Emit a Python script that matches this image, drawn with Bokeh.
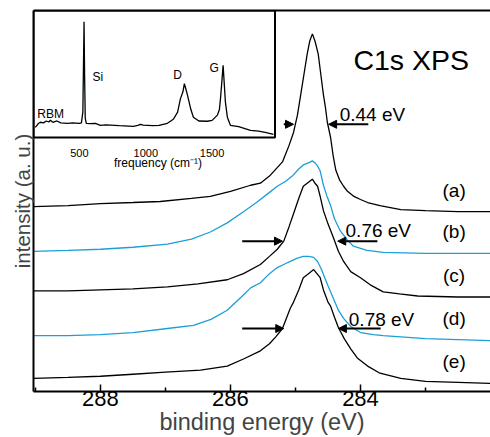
from bokeh.plotting import figure
from bokeh.models import Range1d, LinearAxis, Title, Arrow, NormalHead, FixedTicker
from bokeh.core.properties import value
from bokeh.embed import file_html
from bokeh.resources import INLINE

FONT = "Liberation Sans"
BLUE = "#1b9fd9"

# ---------------- main XPS data (binding energy eV, intensity a.u.) ----------------
e_a = [289.03, 288.5, 288.0, 287.5, 287.08, 286.6, 286.31, 286.0, 285.69, 285.54, 285.4, 285.2, 285.1, 285.03,
       284.97, 284.92, 284.87, 284.82, 284.78, 284.74, 284.7, 284.65, 284.61, 284.57, 284.54, 284.51, 284.46,
       284.42, 284.38, 284.32, 284.26, 284.2, 284.1, 284.0, 283.89, 283.7, 283.38, 283.0, 282.5, 282.0]
i_a = [182, 183, 185, 186, 187, 190, 192, 197, 203, 205, 212, 226, 242, 255,
       272, 292, 312, 332, 345, 352, 345, 332, 312, 292, 280, 265, 250,
       232, 218, 208, 202, 197, 192, 189, 186, 183, 179, 178, 177, 177]

e_b = [289.03, 288.5, 288.0, 287.5, 286.97, 286.6, 286.31, 286.05, 285.8, 285.6, 285.4, 285.28, 285.15, 285.05,
       284.95, 284.88, 284.8, 284.74, 284.7, 284.66, 284.62, 284.57, 284.52, 284.46, 284.4, 284.31, 284.2,
       284.11, 283.9, 283.65, 283.0, 282.0]
i_b = [138, 139, 140, 142, 145, 150, 157, 166, 177, 186, 196, 202, 207, 212,
       219, 223, 225, 227, 225, 222, 217, 203, 193, 183, 170, 158, 149,
       143, 139, 137, 136, 136]

e_c = [289.03, 288.5, 288.0, 287.5, 286.97, 286.5, 286.05, 285.8, 285.54, 285.4, 285.28, 285.18, 285.1, 285.03,
       284.95, 284.88, 284.8, 284.74, 284.7, 284.66, 284.62, 284.57, 284.5, 284.42, 284.34, 284.26, 284.15,
       284.0, 283.85, 283.65, 283.4, 283.12, 282.5, 282.0]
i_c = [99, 99, 100, 101, 103, 106, 110, 116, 125, 133, 140, 148, 162, 175,
       190, 202, 206, 209, 205, 202, 192, 178, 165, 152, 138, 128, 118,
       112, 105, 98, 96, 94, 93, 93]

e_d = [289.03, 288.5, 288.0, 287.5, 286.97, 286.57, 286.3, 286.05, 285.85, 285.69, 285.54, 285.4, 285.28, 285.15,
       285.08, 284.98, 284.88, 284.8, 284.72, 284.66, 284.6, 284.55, 284.5, 284.42, 284.34, 284.26, 284.15,
       284.0, 283.8, 283.65, 283.0, 282.0]
i_d = [55, 55, 56, 58, 62, 65, 71, 80, 92, 102, 107, 116, 122, 126,
       128, 131, 133, 133, 132, 128, 120, 112, 104, 92, 80, 72, 64,
       58, 56, 55, 52, 50]

e_e = [289.03, 288.5, 288.0, 287.5, 287.0, 286.46, 286.05, 285.8, 285.54, 285.4, 285.3, 285.2, 285.08, 285.03,
       284.95, 284.88, 284.8, 284.72, 284.67, 284.62, 284.57, 284.5, 284.46, 284.4, 284.34, 284.25, 284.15,
       284.05, 283.89, 283.7, 283.38, 283.0, 282.5, 282.0]
i_e = [13, 14, 15, 17, 19, 21, 25, 32, 40, 47, 54, 62, 82, 88,
       100, 112, 116, 120, 116, 112, 100, 88, 84, 73, 63, 52, 42,
       33, 25, 18, 13, 10, 9, 8]

curve_labels = ["(a)", "(b)", "(c)", "(d)", "(e)"]
curve_label_y = [198, 157, 114, 72, 30]

fwhm_text = ["0.44 eV", "0.76 eV", "0.78 eV"]
fwhm_text_x = [284.32, 284.23, 284.18]
fwhm_text_y = [273, 158, 71]
arrow_left_start = [285.18, 285.82, 285.82]
arrow_left_end = [285.03, 285.20, 285.18]
arrow_right_start = [283.88, 283.74, 283.69]
arrow_right_end = [284.49, 284.35, 284.34]
arrow_y = [263, 148, 62]

x_ticks = [288, 286, 284]
x_minor_ticks = [289, 287, 285, 283]

# ---------------- inset Raman data (cm^-1, normalised intensity) ----------------
raman_f = [168, 190, 206, 230, 250, 270, 281, 300, 330, 360, 410, 450, 500, 515,
           526, 531, 535, 539, 544, 552, 580, 620, 658, 700, 800, 907, 940, 960, 980,
           1050, 1100, 1163, 1208, 1240, 1261, 1280, 1291, 1300, 1314, 1340, 1359, 1400,
           1465, 1500, 1540, 1555, 1563, 1572, 1583, 1590, 1600, 1615, 1638, 1700, 1789,
           1850, 1900, 1962]
raman_v = [0.08, 0.11, 0.12, 0.115, 0.13, 0.122, 0.136, 0.12, 0.13, 0.115, 0.112, 0.115, 0.112, 0.115,
           0.2, 0.6, 0.912, 0.5, 0.15, 0.112, 0.11, 0.112, 0.096, 0.1, 0.094, 0.088, 0.095, 0.104, 0.097,
           0.093, 0.095, 0.112, 0.144, 0.2, 0.304, 0.36, 0.424, 0.39, 0.336, 0.22, 0.16, 0.13,
           0.128, 0.135, 0.176, 0.22, 0.304, 0.42, 0.568, 0.45, 0.28, 0.16, 0.096, 0.085, 0.056,
           0.05, 0.04, 0.024]
raman_ticks = [500, 1000, 1500]
raman_peak_names = ["RBM", "Si", "D", "G"]
raman_name_f = [183, 598, 1208, 1480]
raman_name_v = [0.184, 0.48, 0.496, 0.544]

# ---------------- figure ----------------
p = figure(width=490, height=437, output_backend="svg", toolbar_location=None,
           x_range=Range1d(289.03, 282.0), y_range=Range1d(0, 375),
           min_border_left=33, min_border_right=0, min_border_top=10, min_border_bottom=0)
p.outline_line_color = None
p.grid.visible = False
p.background_fill_color = "white"
p.border_fill_color = "white"

p.extra_x_ranges = {"ins": Range1d(154, 3598)}
p.extra_y_ranges = {"ins": Range1d(-2, 1)}

# bottom axis
xa = p.xaxis[0]
xa.ticker = FixedTicker(ticks=x_ticks, minor_ticks=x_minor_ticks)
xa.axis_line_width = 2
xa.major_tick_in = 7
xa.major_tick_out = 0
xa.minor_tick_in = 4
xa.minor_tick_out = 0
xa.major_tick_line_width = 1.5
xa.minor_tick_line_width = 1.5
xa.major_label_text_font = FONT
xa.major_label_text_font_size = "22px"
xa.major_label_text_color = "black"
xa.major_label_standoff = -1
xa.axis_label = "binding energy (eV)"
xa.axis_label_text_font = FONT
xa.axis_label_text_font_size = "23.5px"
xa.axis_label_text_font_style = "normal"
xa.axis_label_standoff = 0

# left axis: no ticks, no labels
ya = p.yaxis[0]
ya.ticker = FixedTicker(ticks=[])
ya.axis_line_width = 2
ya.major_tick_line_color = None
ya.minor_tick_line_color = None
ya.major_label_standoff = 0

# top frame line
top = LinearAxis(ticker=FixedTicker(ticks=[]), axis_line_width=2, major_tick_line_color=None,
                 minor_tick_line_color=None, major_label_standoff=0)
p.add_layout(top, "above")

# y label as left title
p.add_layout(Title(text="intensity (a. u.)", align="center", offset=-26, standoff=0,
                   text_font=FONT, text_font_size="20.5px", text_font_style="normal"), "left")

# curves
for e, i, c in [(e_a, i_a, "black"), (e_b, i_b, BLUE), (e_c, i_c, "black"), (e_d, i_d, BLUE), (e_e, i_e, "black")]:
    p.line(e, i, line_color=c, line_width=1.3)

p.text(x=[282.56] * 5, y=curve_label_y, text=curve_labels, text_font=value(FONT),
       text_font_size="19px", text_align="center", text_baseline="middle", text_color="black")

p.text(x=fwhm_text_x, y=fwhm_text_y, text=fwhm_text, text_font=value(FONT),
       text_font_size="19px", text_align="left", text_baseline="alphabetic", text_color="black")

for k in range(3):
    p.add_layout(Arrow(x_start=arrow_left_start[k], y_start=arrow_y[k], x_end=arrow_left_end[k], y_end=arrow_y[k],
                       line_width=2, end=NormalHead(size=8, fill_color="black", line_color="black")))
    p.add_layout(Arrow(x_start=arrow_right_start[k], y_start=arrow_y[k], x_end=arrow_right_end[k], y_end=arrow_y[k],
                       line_width=2, end=NormalHead(size=8, fill_color="black", line_color="black")))

p.text(x=[283.22], y=[326], text=["C1s XPS"], text_font=value(FONT), text_font_size="28.5px",
       text_align="center", text_baseline="alphabetic", text_color="black")

# inset
p.quad(left=[154], right=[1974], bottom=[0], top=[1], fill_color="white", line_color="black", line_width=2,
       x_range_name="ins", y_range_name="ins")
p.line(raman_f, raman_v, line_color="black", line_width=1.3, x_range_name="ins", y_range_name="ins")
p.text(x=raman_name_f, y=raman_name_v, text=raman_peak_names, text_font=value(FONT), text_font_size="12px",
       text_align="left", text_baseline="alphabetic", x_range_name="ins", y_range_name="ins")
p.text(x=raman_ticks, y=[-0.12] * 3, text=[str(t) for t in raman_ticks], text_font=value(FONT),
       text_font_size="11px", text_align="center", text_baseline="alphabetic",
       x_range_name="ins", y_range_name="ins")
p.text(x=[1092], y=[-0.2], text=["frequency (cm\u207b\u00b9)"], text_font=value(FONT), text_font_size="12px",
       text_align="center", text_baseline="alphabetic", x_range_name="ins", y_range_name="ins")

open("out.html", "w").write(file_html(p, INLINE))
